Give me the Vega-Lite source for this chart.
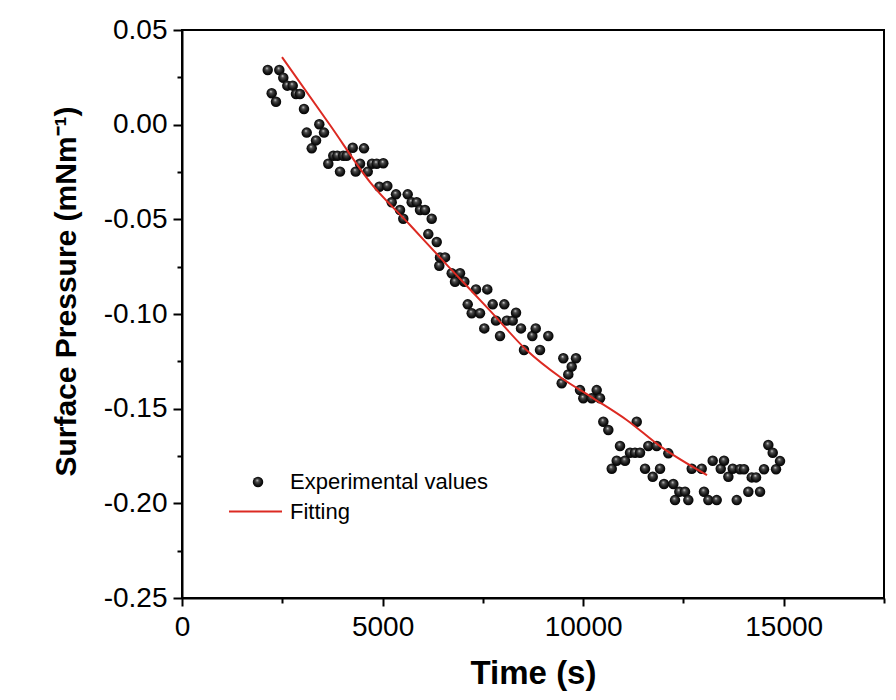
{
  "$schema": "https://vega.github.io/schema/vega-lite/v6.json",
  "width": 702,
  "height": 568,
  "autosize": {"type": "none"},
  "padding": {"left": 182, "top": 30, "right": 12, "bottom": 102},
  "background": "white",
  "config": {
    "view": {"stroke": "black", "strokeWidth": 2},
    "font": "Liberation Sans",
    "axis": {"grid": false, "domainColor": "black", "tickColor": "black", "labelColor": "black", "titleColor": "black", "domainWidth": 2, "tickWidth": 2, "labelFont": "Liberation Sans", "titleFont": "Liberation Sans"},
    "legend": {"labelFont": "Liberation Sans", "labelColor": "black", "labelLimit": 0}
  },
  "datasets": {
    "exp": [
      {"time": 2137, "pressure": 0.0289, "series": "Experimental values"},
      {"time": 2236, "pressure": 0.0166, "series": "Experimental values"},
      {"time": 2343, "pressure": 0.0121, "series": "Experimental values"},
      {"time": 2426, "pressure": 0.0289, "series": "Experimental values"},
      {"time": 2525, "pressure": 0.0248, "series": "Experimental values"},
      {"time": 2625, "pressure": 0.0206, "series": "Experimental values"},
      {"time": 2760, "pressure": 0.0206, "series": "Experimental values"},
      {"time": 2842, "pressure": 0.0162, "series": "Experimental values"},
      {"time": 2942, "pressure": 0.0162, "series": "Experimental values"},
      {"time": 3041, "pressure": 0.0083, "series": "Experimental values"},
      {"time": 3109, "pressure": -0.0042, "series": "Experimental values"},
      {"time": 3234, "pressure": -0.0125, "series": "Experimental values"},
      {"time": 3341, "pressure": -0.0083, "series": "Experimental values"},
      {"time": 3423, "pressure": 0.0002, "series": "Experimental values"},
      {"time": 3540, "pressure": -0.0042, "series": "Experimental values"},
      {"time": 3647, "pressure": -0.0206, "series": "Experimental values"},
      {"time": 3772, "pressure": -0.0164, "series": "Experimental values"},
      {"time": 3872, "pressure": -0.0164, "series": "Experimental values"},
      {"time": 3939, "pressure": -0.0248, "series": "Experimental values"},
      {"time": 4021, "pressure": -0.0164, "series": "Experimental values"},
      {"time": 4106, "pressure": -0.0164, "series": "Experimental values"},
      {"time": 4256, "pressure": -0.0122, "series": "Experimental values"},
      {"time": 4330, "pressure": -0.0248, "series": "Experimental values"},
      {"time": 4438, "pressure": -0.0206, "series": "Experimental values"},
      {"time": 4537, "pressure": -0.0125, "series": "Experimental values"},
      {"time": 4630, "pressure": -0.0248, "series": "Experimental values"},
      {"time": 4737, "pressure": -0.0206, "series": "Experimental values"},
      {"time": 4854, "pressure": -0.0206, "series": "Experimental values"},
      {"time": 4919, "pressure": -0.0328, "series": "Experimental values"},
      {"time": 5018, "pressure": -0.0204, "series": "Experimental values"},
      {"time": 5118, "pressure": -0.0324, "series": "Experimental values"},
      {"time": 5228, "pressure": -0.0410, "series": "Experimental values"},
      {"time": 5335, "pressure": -0.0368, "series": "Experimental values"},
      {"time": 5435, "pressure": -0.0451, "series": "Experimental values"},
      {"time": 5517, "pressure": -0.0497, "series": "Experimental values"},
      {"time": 5627, "pressure": -0.0368, "series": "Experimental values"},
      {"time": 5726, "pressure": -0.0410, "series": "Experimental values"},
      {"time": 5851, "pressure": -0.0410, "series": "Experimental values"},
      {"time": 5933, "pressure": -0.0451, "series": "Experimental values"},
      {"time": 6058, "pressure": -0.0451, "series": "Experimental values"},
      {"time": 6140, "pressure": -0.0578, "series": "Experimental values"},
      {"time": 6225, "pressure": -0.0497, "series": "Experimental values"},
      {"time": 6350, "pressure": -0.0620, "series": "Experimental values"},
      {"time": 6414, "pressure": -0.0745, "series": "Experimental values"},
      {"time": 6432, "pressure": -0.0701, "series": "Experimental values"},
      {"time": 6557, "pressure": -0.0701, "series": "Experimental values"},
      {"time": 6724, "pressure": -0.0785, "series": "Experimental values"},
      {"time": 6806, "pressure": -0.0830, "series": "Experimental values"},
      {"time": 6931, "pressure": -0.0785, "series": "Experimental values"},
      {"time": 7038, "pressure": -0.0830, "series": "Experimental values"},
      {"time": 7123, "pressure": -0.0949, "series": "Experimental values"},
      {"time": 7222, "pressure": -0.0996, "series": "Experimental values"},
      {"time": 7329, "pressure": -0.0870, "series": "Experimental values"},
      {"time": 7429, "pressure": -0.0996, "series": "Experimental values"},
      {"time": 7536, "pressure": -0.1076, "series": "Experimental values"},
      {"time": 7611, "pressure": -0.0870, "series": "Experimental values"},
      {"time": 7746, "pressure": -0.0949, "series": "Experimental values"},
      {"time": 7828, "pressure": -0.1035, "series": "Experimental values"},
      {"time": 7928, "pressure": -0.1116, "series": "Experimental values"},
      {"time": 8035, "pressure": -0.0949, "series": "Experimental values"},
      {"time": 8095, "pressure": -0.1035, "series": "Experimental values"},
      {"time": 8244, "pressure": -0.1035, "series": "Experimental values"},
      {"time": 8327, "pressure": -0.0993, "series": "Experimental values"},
      {"time": 8451, "pressure": -0.1076, "series": "Experimental values"},
      {"time": 8526, "pressure": -0.1190, "series": "Experimental values"},
      {"time": 8733, "pressure": -0.1116, "series": "Experimental values"},
      {"time": 8818, "pressure": -0.1076, "series": "Experimental values"},
      {"time": 8925, "pressure": -0.1190, "series": "Experimental values"},
      {"time": 9132, "pressure": -0.1116, "series": "Experimental values"},
      {"time": 9466, "pressure": -0.1366, "series": "Experimental values"},
      {"time": 9506, "pressure": -0.1234, "series": "Experimental values"},
      {"time": 9630, "pressure": -0.1319, "series": "Experimental values"},
      {"time": 9715, "pressure": -0.1278, "series": "Experimental values"},
      {"time": 9822, "pressure": -0.1234, "series": "Experimental values"},
      {"time": 9922, "pressure": -0.1402, "series": "Experimental values"},
      {"time": 10004, "pressure": -0.1445, "series": "Experimental values"},
      {"time": 10214, "pressure": -0.1445, "series": "Experimental values"},
      {"time": 10338, "pressure": -0.1402, "series": "Experimental values"},
      {"time": 10421, "pressure": -0.1445, "series": "Experimental values"},
      {"time": 10503, "pressure": -0.1569, "series": "Experimental values"},
      {"time": 10628, "pressure": -0.1613, "series": "Experimental values"},
      {"time": 10713, "pressure": -0.1817, "series": "Experimental values"},
      {"time": 10837, "pressure": -0.1775, "series": "Experimental values"},
      {"time": 10919, "pressure": -0.1697, "series": "Experimental values"},
      {"time": 11044, "pressure": -0.1775, "series": "Experimental values"},
      {"time": 11169, "pressure": -0.1733, "series": "Experimental values"},
      {"time": 11293, "pressure": -0.1733, "series": "Experimental values"},
      {"time": 11336, "pressure": -0.1569, "series": "Experimental values"},
      {"time": 11418, "pressure": -0.1733, "series": "Experimental values"},
      {"time": 11543, "pressure": -0.1817, "series": "Experimental values"},
      {"time": 11625, "pressure": -0.1697, "series": "Experimental values"},
      {"time": 11735, "pressure": -0.1860, "series": "Experimental values"},
      {"time": 11834, "pressure": -0.1697, "series": "Experimental values"},
      {"time": 11917, "pressure": -0.1817, "series": "Experimental values"},
      {"time": 12016, "pressure": -0.1898, "series": "Experimental values"},
      {"time": 12124, "pressure": -0.1736, "series": "Experimental values"},
      {"time": 12248, "pressure": -0.1898, "series": "Experimental values"},
      {"time": 12290, "pressure": -0.1983, "series": "Experimental values"},
      {"time": 12398, "pressure": -0.1939, "series": "Experimental values"},
      {"time": 12540, "pressure": -0.1939, "series": "Experimental values"},
      {"time": 12622, "pressure": -0.1983, "series": "Experimental values"},
      {"time": 12707, "pressure": -0.1817, "series": "Experimental values"},
      {"time": 12956, "pressure": -0.1817, "series": "Experimental values"},
      {"time": 13013, "pressure": -0.1939, "series": "Experimental values"},
      {"time": 13121, "pressure": -0.1983, "series": "Experimental values"},
      {"time": 13230, "pressure": -0.1775, "series": "Experimental values"},
      {"time": 13330, "pressure": -0.1983, "series": "Experimental values"},
      {"time": 13430, "pressure": -0.1817, "series": "Experimental values"},
      {"time": 13512, "pressure": -0.1775, "series": "Experimental values"},
      {"time": 13620, "pressure": -0.1860, "series": "Experimental values"},
      {"time": 13729, "pressure": -0.1817, "series": "Experimental values"},
      {"time": 13829, "pressure": -0.1983, "series": "Experimental values"},
      {"time": 13911, "pressure": -0.1820, "series": "Experimental values"},
      {"time": 14011, "pressure": -0.1820, "series": "Experimental values"},
      {"time": 14118, "pressure": -0.1939, "series": "Experimental values"},
      {"time": 14203, "pressure": -0.1863, "series": "Experimental values"},
      {"time": 14310, "pressure": -0.1863, "series": "Experimental values"},
      {"time": 14410, "pressure": -0.1939, "series": "Experimental values"},
      {"time": 14509, "pressure": -0.1820, "series": "Experimental values"},
      {"time": 14616, "pressure": -0.1692, "series": "Experimental values"},
      {"time": 14726, "pressure": -0.1733, "series": "Experimental values"},
      {"time": 14808, "pressure": -0.1820, "series": "Experimental values"},
      {"time": 14908, "pressure": -0.1777, "series": "Experimental values"}
    ],
    "fit": [
      {"time": 2493, "pressure": 0.0357, "series": "Fitting"},
      {"time": 3689, "pressure": -0.0002, "series": "Fitting"},
      {"time": 4687, "pressure": -0.0303, "series": "Fitting"},
      {"time": 5684, "pressure": -0.0530, "series": "Fitting"},
      {"time": 6631, "pressure": -0.0747, "series": "Fitting"},
      {"time": 7678, "pressure": -0.0982, "series": "Fitting"},
      {"time": 8600, "pressure": -0.1193, "series": "Fitting"},
      {"time": 9424, "pressure": -0.1333, "series": "Fitting"},
      {"time": 10246, "pressure": -0.1444, "series": "Fitting"},
      {"time": 11094, "pressure": -0.1561, "series": "Fitting"},
      {"time": 11917, "pressure": -0.1698, "series": "Fitting"},
      {"time": 13088, "pressure": -0.1851, "series": "Fitting"}
    ]
  },
  "layer": [
    {
      "data": {"name": "exp"},
      "mark": {
        "type": "point",
        "filled": true,
        "size": 110,
        "opacity": 1,
        "strokeWidth": 0,
        "fill": {"gradient": "radial", "x1": 0.42, "y1": 0.32, "r1": 0, "x2": 0.5, "y2": 0.5, "r2": 0.55,
          "stops": [{"offset": 0, "color": "#e0e0e0"}, {"offset": 0.28, "color": "#4a4a4a"}, {"offset": 0.7, "color": "#111111"}, {"offset": 1, "color": "#000000"}]}
      },
      "encoding": {
        "x": {"field": "time", "type": "quantitative", "scale": {"domain": [0, 17500], "nice": false, "zero": false},
          "axis": {"values": [0, 5000, 10000, 15000], "format": "d", "title": "Time (s)", "titleFontSize": 33, "titleFontWeight": "bold", "titlePadding": 16, "labelFontSize": 28, "tickSize": 8, "labelPadding": 7, "labelFlush": false, "labelOverlap": false}},
        "y": {"field": "pressure", "type": "quantitative", "scale": {"domain": [-0.25, 0.05], "nice": false, "zero": false},
          "axis": {"values": [-0.25, -0.2, -0.15, -0.1, -0.05, 0, 0.05], "labelExpr": "replace(format(datum.value, '.2f'), '\u2212', '-')", "title": "Surface Pressure (mNm\u207b\u00b9)", "titleFontSize": 30, "titleFontWeight": "bold", "titlePadding": 22, "titleY": 261, "labelFontSize": 28, "tickSize": 9, "labelPadding": 6, "labelFlush": false, "labelOverlap": false}},
        "shape": {"field": "series", "type": "nominal", "scale": {"domain": ["Experimental values"], "range": ["circle"]},
          "legend": {"orient": "none", "legendX": 65, "legendY": 441, "title": null, "labelFontSize": 22, "symbolSize": 110, "labelOffset": 21, "padding": 0, "labelLimit": 0,
            "encode": {"symbols": {"update": {"fill": {"value": {"gradient": "radial", "x1": 0.42, "y1": 0.32, "r1": 0, "x2": 0.5, "y2": 0.5, "r2": 0.55,
              "stops": [{"offset": 0, "color": "#e0e0e0"}, {"offset": 0.28, "color": "#4a4a4a"}, {"offset": 0.7, "color": "#111111"}, {"offset": 1, "color": "#000000"}]}}, "stroke": {"value": "transparent"}, "opacity": {"value": 1}}}}}}
      }
    },
    {
      "data": {"name": "fit"},
      "mark": {"type": "line", "strokeWidth": 2, "interpolate": "monotone"},
      "encoding": {
        "x": {"field": "time", "type": "quantitative",
          "axis": {"orient": "bottom", "values": [2500, 7500, 12500, 17500], "labels": false, "title": null, "domain": false, "tickSize": 5}},
        "y": {"field": "pressure", "type": "quantitative",
          "axis": {"orient": "left", "values": [-0.225, -0.175, -0.125, -0.075, -0.025, 0.025], "labels": false, "title": null, "domain": false, "tickSize": 5}},
        "color": {"field": "series", "type": "nominal", "scale": {"domain": ["Fitting"], "range": ["#dc2a22"]},
          "legend": {"orient": "none", "legendX": 46, "legendY": 454, "title": null, "labelFontSize": 22, "symbolType": "stroke", "symbolSize": 2809, "symbolStrokeWidth": 2, "labelOffset": 7, "padding": 0, "labelLimit": 0}}
      }
    }
  ],
  "resolve": {"scale": {"x": "shared", "y": "shared"}, "axis": {"x": "independent", "y": "independent"}}
}
